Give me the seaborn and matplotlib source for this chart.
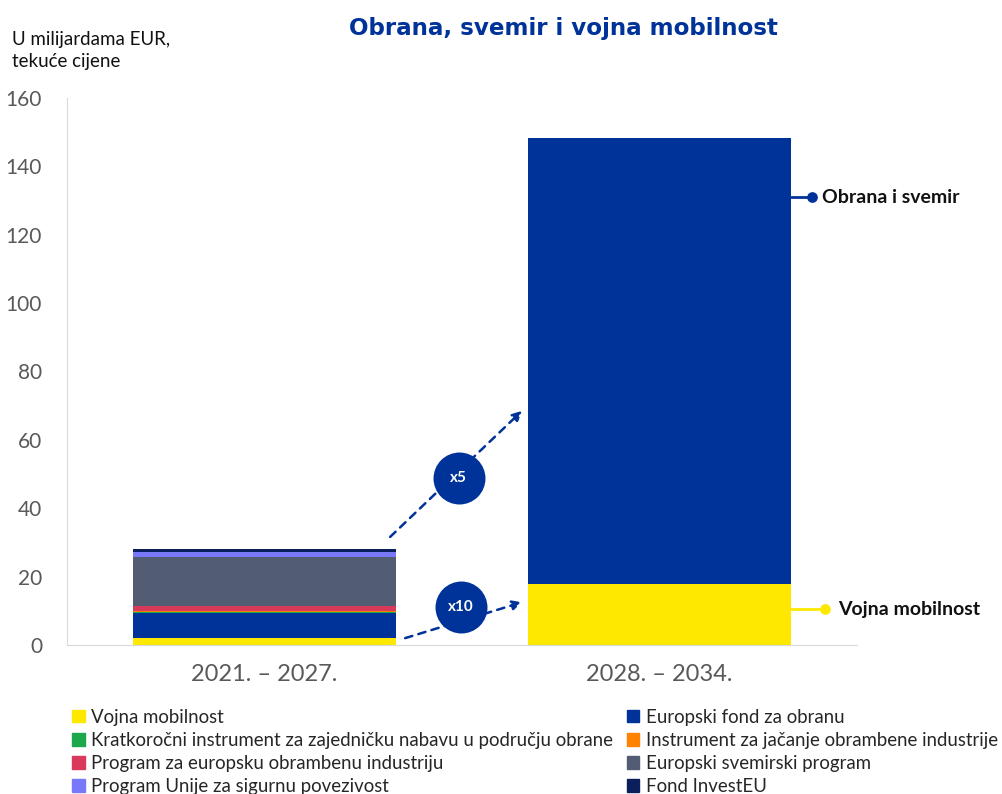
import pandas as pd
import numpy as np
from matplotlib import pyplot as plt
from matplotlib.patches import Patch
import seaborn as sns

# data (EUR bn, current prices)
periods = ["2021. – 2027.", "2028. – 2034."]
series_names = [
    "Vojna mobilnost",
    "Europski fond za obranu",
    "Kratkoročni instrument za zajedničku nabavu u području obrane",
    "Instrument za jačanje obrambene industrije",
    "Program za europsku obrambenu industriju",
    "Europski svemirski program",
    "Program Unije za sigurnu povezivost",
    "Fond InvestEU",
]
series_colors = ["#FFE800", "#003399", "#1BA84A", "#FF8200", "#D93A5B", "#525C73", "#7878FA", "#0B1F5C"]
values_2021 = [1.9, 7.4, 0.35, 0.35, 1.4, 14.4, 1.3, 1.0]
values_2028 = [17.7, 130.5, 0, 0, 0, 0, 0, 0]

multipliers = ["x5", "x10"]
callout_labels = ["Obrana i svemir", "Vojna mobilnost"]

sns.set_style("white")
plt.rcParams["font.family"] = ["Lato", "DejaVu Sans"]

df = pd.DataFrame({"period": np.repeat(periods, len(series_names)),
                   "series": series_names * 2,
                   "value": values_2021 + values_2028})
df["top"] = df.groupby("period")["value"].cumsum()

fig = plt.figure(figsize=(10.02, 7.94), dpi=100)
ax = fig.add_axes([0.0669, 0.1877, 0.7884, 0.6889])

# stacked bars: draw cumulative tops from the top segment down
for name, color in reversed(list(zip(series_names, series_colors))):
    sub = df[df["series"] == name]
    sns.barplot(data=sub, x="period", y="top", color=color, width=0.667,
                errorbar=None, linewidth=0, saturation=1, ax=ax)

ax.set_xlim(-0.5, 1.5)
ax.set_ylim(0, 160)
ax.set_yticks(range(0, 161, 20))
ax.set_xlabel("")
ax.set_ylabel("")
ax.tick_params(axis="y", labelsize=15, labelcolor="#595959", length=0, pad=18)
ax.tick_params(axis="x", labelsize=17, labelcolor="#595959", length=0, pad=14)
ax.set_xticks([-0.5, 0.5, 1.5], minor=True)
ax.tick_params(axis="x", which="minor", direction="in", length=7, color="#d9d9d9")
for s in ["top", "right"]:
    ax.spines[s].set_visible(False)
for s in ["left", "bottom"]:
    ax.spines[s].set_color("#d9d9d9")

left_total = sum(values_2021)
right_mob = values_2028[0]
blue = "#003399"

# growth arrows with badges
ax.annotate("", xy=(0.652, 68.5), xytext=(0.318, left_total + 3.5),
            arrowprops=dict(arrowstyle="-|>", linestyle=(0, (3, 2.5)), color=blue, lw=1.8,
                            mutation_scale=14, shrinkA=0, shrinkB=0))
ax.annotate("", xy=(0.652, right_mob - 5.2), xytext=(0.356, 2.0),
            arrowprops=dict(arrowstyle="-|>", linestyle=(0, (3, 2.5)), color=blue, lw=1.8,
                            mutation_scale=14, shrinkA=0, shrinkB=0))
badge_pos = [(0.492, 48.8), (0.497, 11.1)]
for label, (bx, by) in zip(multipliers, badge_pos):
    ax.scatter([bx], [by], s=1400, color=blue, linewidth=0, zorder=6)
    ax.text(bx, by, label, ha="center", va="center", color="white", fontsize=11,
            fontweight="bold", zorder=7)

# callouts on the right bar
ax.plot([1.333, 1.386], [131, 131], color=blue, lw=2, clip_on=False)
ax.scatter([1.386], [131], s=45, color=blue, clip_on=False, zorder=5)
ax.text(1.411, 131, callout_labels[0], ha="left", va="center", fontsize=14,
        fontweight="bold", color="#111111", clip_on=False)
ax.plot([1.333, 1.419], [10.5, 10.5], color="#FFE800", lw=2, clip_on=False)
ax.scatter([1.419], [10.5], s=45, color="#FFE800", clip_on=False, zorder=5)
ax.text(1.452, 10.5, callout_labels[1], ha="left", va="center", fontsize=14,
        fontweight="bold", color="#111111", clip_on=False)

fig.text(0.5625, 0.964, "Obrana, svemir i vojna mobilnost", ha="center", va="center",
         fontsize=16.6, fontweight="bold", color=blue, family="DejaVu Sans")
fig.text(0.012, 0.936, "U milijardama EUR,\ntekuće cijene", ha="left", va="center",
         fontsize=13.5, color="#111111", linespacing=1.35)

# legend, filled column by column
order = [0, 2, 4, 6, 1, 3, 5, 7]
handles = [Patch(color=series_colors[i]) for i in order]
labels = [series_names[i] for i in order]
fig.legend(handles, labels, ncol=2, loc="upper left", bbox_to_anchor=(0.063, 0.119),
           frameon=False, handlelength=0.65, handleheight=0.65, borderpad=0,
           handletextpad=0.35, columnspacing=0.75, labelspacing=0.33,
           prop={"family": ["Lato", "DejaVu Sans"], "size": 13.4})

fig.savefig("out.png", dpi=100)
